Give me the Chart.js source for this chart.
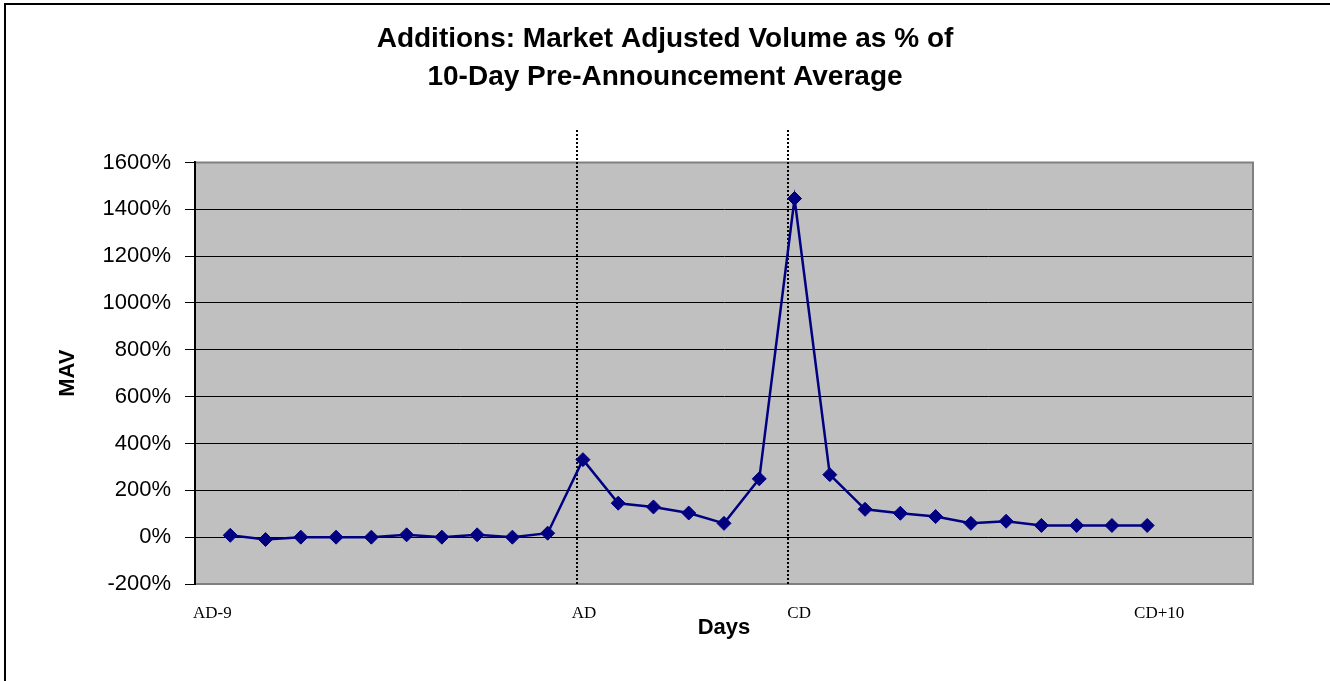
<!DOCTYPE html>
<html>
<head>
<meta charset="utf-8">
<script src="https://cdn.jsdelivr.net/npm/chart.js@4.4.1/dist/chart.umd.min.js"></script>
<style>
  html, body { margin: 0; padding: 0; background: #ffffff; }
  #wrap { width: 1330px; height: 681px; position: relative; }
</style>
</head>
<body>
<div id="wrap"><canvas id="mavChart"></canvas></div>
<script>
// days around announcement (AD) and change (CD) dates
const days = [
  "AD-10", "AD-9", "AD-8", "AD-7", "AD-6", "AD-5", "AD-4", "AD-3", "AD-2", "AD-1",
  "AD", "AD+1", "AD+2", "AD+3", "AD+4", "AD+5",
  "CD", "CD+1", "CD+2", "CD+3", "CD+4", "CD+5", "CD+6", "CD+7", "CD+8", "CD+9", "CD+10"
];
// market adjusted volume, % of 10-day pre-announcement average
const mav = [
  8, -10, 0, 0, 0, 10, 0, 10, 0, 17,
  331, 145, 129, 103, 59, 249,
  1446, 267, 119, 102, 88, 59, 68, 50, 50, 50, 50
];
const tickLabels = ["AD-9", "AD", "CD", "CD+10"];
const tickValues = [0.49, 11.03, 17.13, 27.34];
const markerDays = ["AD", "CD"];

const plotBg = {
  id: "plotBg",
  beforeDraw(chart) {
    const { ctx, chartArea: a } = chart;
    ctx.save();
    ctx.fillStyle = "#c0c0c0";
    ctx.fillRect(a.left, a.top, a.right - a.left, a.bottom - a.top);
    ctx.restore();
  },
  beforeDatasetsDraw(chart) {
    const { ctx, chartArea: a, scales } = chart;
    ctx.save();
    // grey frame top / right / bottom
    ctx.strokeStyle = "#808080";
    ctx.lineWidth = 2;
    ctx.beginPath();
    ctx.moveTo(a.left, a.top);
    ctx.lineTo(a.right, a.top);
    ctx.lineTo(a.right, a.bottom);
    ctx.lineTo(a.left, a.bottom);
    ctx.stroke();
    // black value axis
    ctx.strokeStyle = "#000";
    ctx.beginPath();
    ctx.moveTo(a.left, a.top - 1);
    ctx.lineTo(a.left, a.bottom + 1);
    ctx.stroke();
    // dotted event lines
    ctx.lineWidth = 2;
    ctx.setLineDash([2, 2]);
    markerDays.forEach(d => {
      const x = Math.round(scales.x.getPixelForValue(days.indexOf(d) + 1 - 0.18));
      ctx.beginPath();
      ctx.moveTo(x, 130);
      ctx.lineTo(x, a.bottom);
      ctx.stroke();
    });
    ctx.setLineDash([]);
    // outer chart border (cut at right/bottom)
    ctx.beginPath();
    ctx.moveTo(5, chart.height);
    ctx.lineTo(5, 4);
    ctx.lineTo(chart.width, 4);
    ctx.stroke();
    ctx.restore();
  }
};

const ctx = document.getElementById("mavChart").getContext("2d");
const chart = new Chart(ctx, {
  type: "line",
  data: {
    datasets: [
      {
        label: "MAV",
        data: mav.map((v, i) => ({ x: i + 1, y: v })),
        borderColor: "#000080",
        backgroundColor: "#000080",
        borderWidth: 2.5,
        tension: 0,
        pointStyle: "rectRot",
        pointRadius: 7,
        pointBackgroundColor: "#000080",
        pointBorderColor: "#000080",
        pointBorderWidth: 1,
      },
    ],
  },
  options: {
    responsive: true,
    maintainAspectRatio: false,
    animation: false,
    layout: {
      padding: 0,
    },
    scales: {
      x: {
        type: "linear",
        min: 0,
        max: 30,
        afterFit: (scale) => { scale.height = 97; },
        afterBuildTicks: (scale) => {
          scale.ticks = tickValues.map(v => ({ value: v }));
        },
        grid: { display: false, drawTicks: false },
        border: { display: true, color: "#808080", width: 2 },
        ticks: {
          autoSkip: false,
          maxRotation: 0,
          padding: 19,
          color: "#000",
          font: { family: "'Liberation Serif', 'Times New Roman', serif", size: 17 },
          callback: (value, index) => tickLabels[index],
        },
        title: {
          display: true,
          text: "Days",
          color: "#000",
          font: { family: "'Liberation Sans', Arial, sans-serif", size: 22, weight: "bold" },
          padding: { top: 0, bottom: 40 },
        },
      },
      y: {
        min: -200,
        max: 1600,
        afterFit: (scale) => { scale.width = 195; },
        grid: { color: "#000", lineWidth: 1, tickLength: 10, drawTicks: true },
        border: { display: true, color: "#000", width: 2 },
        ticks: {
          stepSize: 200,
          padding: 14,
          color: "#000",
          font: { family: "'Liberation Sans', Arial, sans-serif", size: 22 },
          callback: (value) => value + "%",
        },
        title: {
          display: true,
          text: "MAV",
          color: "#000",
          font: { family: "'Liberation Sans', Arial, sans-serif", size: 22, weight: "bold" },
          padding: { top: 55, bottom: 0 },
        },
      },
      // empty right margin so the title centres on the whole chart
      yRight: {
        position: "right",
        display: true,
        afterFit: (scale) => { scale.width = 77; },
        grid: { display: false, drawTicks: false },
        border: { display: false },
        ticks: { display: false },
      },
    },
    plugins: {
      legend: { display: false },
      tooltip: { enabled: false },
      title: {
        display: true,
        text: ["Additions: Market Adjusted Volume as % of", "10-Day Pre-Announcement Average"],
        color: "#000",
        font: { family: "'Liberation Sans', Arial, sans-serif", size: 28, weight: "bold", lineHeight: 1.33 },
        padding: { top: 21, bottom: 67 },
      },
    },
  },
  plugins: [plotBg],
});
</script>
</body>
</html>
